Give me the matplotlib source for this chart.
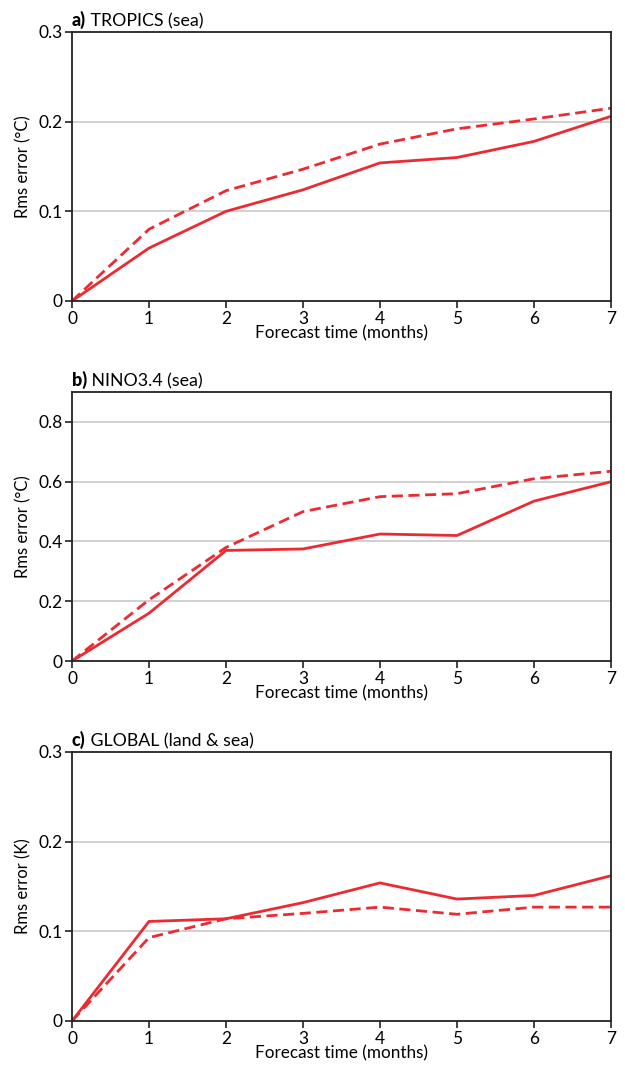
import numpy as np
import matplotlib.pyplot as plt

plt.rcParams['font.family'] = ['Lato', 'DejaVu Sans']

months = [0, 1, 2, 3, 4, 5, 6, 7]

# a) tropics (sea), degC
tropics_solid = [0, 0.059, 0.100, 0.124, 0.154, 0.160, 0.178, 0.206]
tropics_dashed = [0, 0.080, 0.123, 0.147, 0.175, 0.192, 0.203, 0.215]

# b) Nino3.4 (sea), degC
nino_solid = [0, 0.16, 0.37, 0.375, 0.425, 0.42, 0.535, 0.60]
nino_dashed = [0, 0.205, 0.38, 0.50, 0.55, 0.56, 0.61, 0.635]

# c) global (land & sea), K
global_solid = [0, 0.111, 0.114, 0.132, 0.154, 0.136, 0.140, 0.162]
global_dashed = [0, 0.093, 0.114, 0.120, 0.127, 0.119, 0.127, 0.127]

panels = [
    ("a)", "TROPICS (sea)", tropics_solid, tropics_dashed, 0.3, [0, 0.1, 0.2, 0.3], ["0", "0.1", "0.2", "0.3"], "Rms error (°C)"),
    ("b)", "NINO3.4 (sea)", nino_solid, nino_dashed, 0.9, [0, 0.2, 0.4, 0.6, 0.8], ["0", "0.2", "0.4", "0.6", "0.8"], "Rms error (°C)"),
    ("c)", "GLOBAL (land & sea)", global_solid, global_dashed, 0.3, [0, 0.1, 0.2, 0.3], ["0", "0.1", "0.2", "0.3"], "Rms error (K)"),
]

red = "#ec2a31"
fig = plt.figure(figsize=(6.25, 10.7), dpi=100)
bottoms = [0.7187, 0.3822, 0.0458]

for (tag, name, solid, dashed, ymax, yt, ytl, ylab), b in zip(panels, bottoms):
    ax = fig.add_axes([0.1152, b, 0.8624, 0.2514])
    for y in yt[1:]:
        if y < ymax - 1e-9:
            ax.axhline(y, color="#c8c8c8", lw=1.2, zorder=0)
    ax.plot(months, solid, color=red, lw=2.0, solid_joinstyle="round")
    ax.plot(months, dashed, color=red, lw=2.0, ls=(0, (4, 2)))
    ax.set_xlim(0, 7)
    ax.set_ylim(0, ymax)
    ax.set_xticks(months)
    ax.set_yticks(yt)
    ax.set_yticklabels(ytl)
    ax.tick_params(direction="out", length=5, width=1.2, labelsize=12.5, color="#222222", pad=2)
    for s in ax.spines.values():
        s.set_linewidth(1.3)
        s.set_color("#222222")
    ax.set_xlabel("Forecast time (months)", fontsize=12.3, labelpad=-1)
    ax.set_ylabel(ylab, fontsize=12, labelpad=5)
    t = ax.text(0, 1.01, tag, transform=ax.transAxes, fontsize=13, fontweight="black", va="bottom", ha="left")
    ax.annotate(" " + name, xy=(1, 0), xycoords=t, va="bottom", ha="left", fontsize=12.8)

fig.savefig("out.png", dpi=100)
